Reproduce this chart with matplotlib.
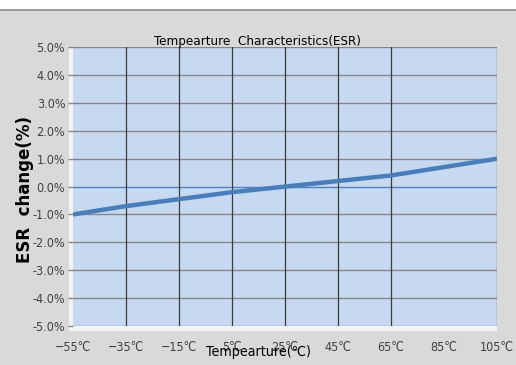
import matplotlib.pyplot as plt
from matplotlib.ticker import FuncFormatter

# ---- Data ----
temps = [-55, -35, -15, 5, 25, 45, 65, 85, 105]
esr_change = [-1.0, -0.7, -0.45, -0.2, 0.0, 0.2, 0.4, 0.7, 1.0]
temp_labels = ["\u221255\u2103", "\u221235\u2103", "\u221215\u2103", "5\u2103", "25\u2103",
               "45\u2103", "65\u2103", "85\u2103", "105\u2103"]
y_ticks = [-5, -4, -3, -2, -1, 0, 1, 2, 3, 4, 5]
# vertical grid lines present in the original (none at 85)
vgrid_temps = [-35, -15, 5, 25, 45, 65, 105]

cond = dict(family="DejaVu Sans", stretch="condensed")

# -----------------------------
# Figure
# -----------------------------
fig = plt.figure(figsize=(5.16, 3.65), dpi=100, facecolor="#d9d9d9")

# white band + border at top
fig.patches.append(plt.Rectangle((0, 0.973), 1, 0.03, transform=fig.transFigure,
                                 facecolor="white", edgecolor="none", zorder=-2))
fig.add_artist(plt.Line2D([0, 1], [0.972, 0.972], transform=fig.transFigure,
                          color="#8c8c8c", lw=1.2))
# pale glow left of / below the plot area
fig.patches.append(plt.Rectangle((0.133, 0.093), 0.83, 0.778, transform=fig.transFigure,
                                 facecolor="#f4f4f4", edgecolor="none", zorder=-2))

ax = fig.add_axes([0.1415, 0.1068, 0.822, 0.764])
ax.set_facecolor("#c6d9f1")

x = list(range(len(temps)))

# grid
for v in y_ticks:
    if v == 0:
        ax.axhline(v, color="#4f81bd", lw=1.0, zorder=1)
    else:
        ax.axhline(v, color="#868686", lw=1.0, zorder=1)
for t in vgrid_temps:
    ax.axvline(temps.index(t), color="#3a3a3a", lw=0.9, zorder=1)

# ---- ESR line ----
ax.plot(x, esr_change, color="#4a7ebb", lw=3.2, solid_capstyle="butt", zorder=3)

ax.set_xlim(0, len(temps) - 1)
ax.set_ylim(-5, 5)
for s in ax.spines.values():
    s.set_visible(False)

ax.set_xticks(x)
ax.set_xticklabels(temp_labels, fontsize=9, color="#404040", **cond)
ax.set_yticks(y_ticks)
ax.yaxis.set_major_formatter(FuncFormatter(lambda v, p: f"{v:.1f}%"))
for lab in ax.get_yticklabels():
    lab.set_family("DejaVu Sans")
    lab.set_stretch("condensed")
    lab.set_fontsize(9)
    lab.set_color("#404040")
ax.tick_params(axis="x", length=0, pad=11)
ax.tick_params(axis="y", length=3.6, width=1.0, color="#868686", pad=2)

# -----------------------------
# Titles
# -----------------------------
fig.text(0.498, 0.876, "Tempearture  Characteristics(ESR)", fontsize=9.6,
         ha="center", va="baseline", color="black", **cond)
fig.text(0.5, 0.036, "Tempearture(\u2103)", fontsize=10.2,
         ha="center", va="center", color="black", **cond)
fig.text(0.048, 0.482, "ESR  change(%)", family="DejaVu Sans", fontweight="bold",
         fontsize=12, rotation=90, ha="center", va="center", color="black")

plt.savefig("out.png", dpi=100, facecolor=fig.get_facecolor())
